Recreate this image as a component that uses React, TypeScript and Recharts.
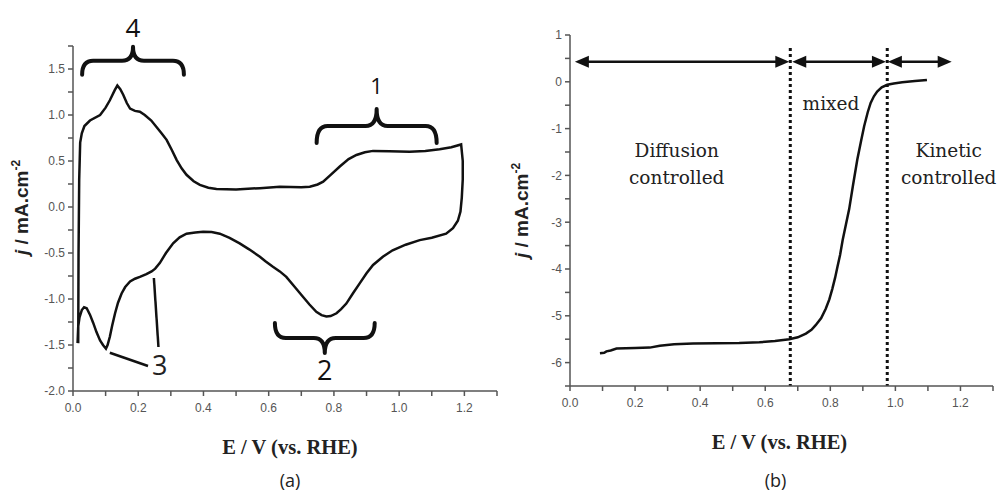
import { LineChart, Line, XAxis, YAxis, ReferenceLine, ReferenceDot } from "recharts";

// ─── (a) cyclic voltammogram ───

const cvAnodicE = [0.016, 0.017, 0.019, 0.022, 0.027, 0.035, 0.052, 0.083, 0.1, 0.113, 0.128, 0.136, 0.145, 0.154, 0.165, 0.175, 0.19, 0.205, 0.22, 0.24, 0.256, 0.272, 0.287, 0.303, 0.318, 0.333, 0.348, 0.37, 0.389, 0.415, 0.44, 0.5, 0.573, 0.634, 0.7, 0.726, 0.75, 0.767, 0.79, 0.818, 0.845, 0.869, 0.895, 0.92, 0.97, 1.032, 1.08, 1.124, 1.16, 1.19];
const cvAnodicJ = [-1.48, -0.5, 0.3, 0.7, 0.8, 0.88, 0.94, 1.0, 1.08, 1.16, 1.27, 1.32, 1.28, 1.22, 1.13, 1.07, 1.045, 1.035, 1.0, 0.94, 0.87, 0.8, 0.73, 0.62, 0.51, 0.42, 0.35, 0.28, 0.24, 0.21, 0.196, 0.19, 0.205, 0.22, 0.215, 0.22, 0.245, 0.275, 0.35, 0.44, 0.52, 0.565, 0.595, 0.61, 0.605, 0.6, 0.61, 0.627, 0.65, 0.68];
const cvCathodicE = [1.195, 1.195, 1.192, 1.188, 1.18, 1.165, 1.144, 1.1, 1.063, 1.02, 0.98, 0.95, 0.92, 0.9, 0.879, 0.858, 0.838, 0.822, 0.808, 0.79, 0.777, 0.762, 0.746, 0.725, 0.705, 0.68, 0.654, 0.634, 0.613, 0.59, 0.573, 0.54, 0.511, 0.48, 0.45, 0.425, 0.399, 0.375, 0.348, 0.327, 0.307, 0.285, 0.266, 0.252, 0.241, 0.225, 0.205, 0.19, 0.175, 0.16, 0.149, 0.138, 0.129, 0.12, 0.113, 0.106, 0.101, 0.092, 0.083, 0.072, 0.062, 0.052, 0.042, 0.034, 0.027, 0.02, 0.016, 0.014];
const cvCathodicJ = [0.5, 0.3, 0.1, -0.05, -0.15, -0.23, -0.29, -0.335, -0.36, -0.41, -0.47, -0.54, -0.63, -0.72, -0.83, -0.94, -1.05, -1.11, -1.155, -1.185, -1.19, -1.175, -1.14, -1.06, -0.975, -0.87, -0.76, -0.7, -0.65, -0.59, -0.54, -0.46, -0.395, -0.335, -0.29, -0.272, -0.27, -0.278, -0.29, -0.33, -0.395, -0.5, -0.61, -0.67, -0.7, -0.73, -0.76, -0.78, -0.81, -0.87, -0.94, -1.04, -1.155, -1.29, -1.41, -1.5, -1.54, -1.5, -1.45, -1.36, -1.26, -1.17, -1.1, -1.09, -1.12, -1.2, -1.3, -1.48];

// ─── (b) linear sweep (ORR) ───

const lsvE = [0.092, 0.105, 0.112, 0.125, 0.143, 0.2, 0.245, 0.276, 0.32, 0.378, 0.45, 0.52, 0.582, 0.63, 0.674, 0.7, 0.725, 0.742, 0.755, 0.772, 0.786, 0.797, 0.806, 0.815, 0.822, 0.83, 0.838, 0.848, 0.858, 0.87, 0.883, 0.895, 0.904, 0.915, 0.924, 0.934, 0.944, 0.958, 0.975, 0.995, 1.021, 1.06, 1.097];
const lsvJ = [-5.8, -5.79, -5.76, -5.74, -5.7, -5.69, -5.68, -5.64, -5.61, -5.59, -5.585, -5.58, -5.565, -5.54, -5.5, -5.46, -5.38, -5.3, -5.2, -5.05, -4.85, -4.65, -4.43, -4.18, -3.95, -3.7, -3.38, -3.05, -2.72, -2.2, -1.66, -1.25, -0.95, -0.65, -0.45, -0.31, -0.21, -0.12, -0.064, -0.035, -0.01, 0.015, 0.04];

// region limits (V) and the arrow row (mA.cm-2)
const regionBounds = [0.677, 0.975];
const regionArrows = [
  [0.015, 0.674],
  [0.683, 0.971],
  [0.977, 1.173],
];
const arrowLevel = 0.43;

// ─── ticks ───

const potentialTicks = [0, 0.1, 0.2, 0.3, 0.4, 0.5, 0.6, 0.7, 0.8, 0.9, 1.0, 1.1, 1.2, 1.3];
const cvCurrentTicks = [-2, -1.75, -1.5, -1.25, -1, -0.75, -0.5, -0.25, 0, 0.25, 0.5, 0.75, 1, 1.25, 1.5, 1.75];
const lsvCurrentTicks = [-6.5, -6, -5.5, -5, -4.5, -4, -3.5, -3, -2.5, -2, -1.5, -1, -0.5, 0, 0.5, 1];

const cvData = [...cvAnodicE, ...cvCathodicE].map((e, i) => ({
  e,
  j: [...cvAnodicJ, ...cvCathodicJ][i],
}));
const lsvData = lsvE.map((e, i) => ({ e, j: lsvJ[i] }));

const ink = "#111";
const axisInk = "#555";
const axisLineStyle = { stroke: axisInk, strokeWidth: 1.5 };

// ─── tick renderers ───

function makeTick(isMajor: (v: number) => boolean, fmt: (v: number) => string, vertical: boolean) {
  return (props: any) => {
    const { x, y, payload } = props;
    if (!isMajor(payload.value)) return <g />;
    return (
      <text
        x={x}
        y={y}
        dy={vertical ? "0.71em" : "0.36em"}
        textAnchor={vertical ? "middle" : "end"}
        fill={axisInk}
        fontSize={12}
        fontFamily="Liberation Sans, Arial, sans-serif"
      >
        {fmt(payload.value)}
      </text>
    );
  };
}

const potentialTick = makeTick(
  (v) => Math.round(v * 10) % 2 === 0,
  (v) => v.toFixed(1),
  true
);
const cvCurrentTick = makeTick(
  (v) => Math.abs(v * 2 - Math.round(v * 2)) < 1e-6,
  (v) => v.toFixed(1),
  false
);
const lsvCurrentTick = makeTick(
  (v) => Math.abs(v - Math.round(v)) < 1e-6,
  (v) => String(v),
  false
);

// ─── titles ───

function currentTitle(dx: number, dy: number) {
  return (props: any) => {
    const { x, y, height } = props.viewBox;
    const cx = x + dx;
    const cy = y + height / 2 + dy;
    return (
      <text
        x={cx}
        y={cy}
        transform={`rotate(-90, ${cx}, ${cy})`}
        textAnchor="middle"
        fontSize={19}
        fontWeight="bold"
        fontFamily="Liberation Sans, Arial, sans-serif"
        fill="#222"
      >
        <tspan fontStyle="italic">j</tspan> / mA.cm
        <tspan dy={-8} fontSize={12}>-2</tspan>
      </text>
    );
  };
}

function potentialTitle(tag: string, dx: number, tagDx: number) {
  return (props: any) => {
    const { x, y, width } = props.viewBox;
    const cx = x + width / 2;
    return (
      <g>
        <text
          x={cx + dx}
          y={y + 56}
          textAnchor="middle"
          dominantBaseline="central"
          fontSize={20.5}
          fontWeight="bold"
          fontFamily="Liberation Serif, Times New Roman, serif"
          fill="#222"
        >
          E / V (vs. RHE)
        </text>
        <text
          x={cx + tagDx}
          y={y + (tag === "(a)" ? 89 : 94)}
          textAnchor="middle"
          dominantBaseline="central"
          fontSize={18}
          fontFamily="Open Sans, sans-serif"
          fill="#222"
        >
          {tag}
        </text>
      </g>
    );
  };
}

// ─── annotation shapes ───

function brace(label: string, depth: number, up: boolean, fontSize: number, gap: number) {
  return (props: any) => {
    const { x1, x2, y1 } = props;
    const cx = (x1 + x2) / 2;
    const s = up ? 1 : -1;
    const r = 11;
    const yEnd = y1 + s * depth;
    const yTip = y1 - s * depth;
    const d = `M${x1},${yEnd} Q${x1},${y1} ${x1 + r},${y1} L${cx - r},${y1} Q${cx},${y1} ${cx},${yTip} Q${cx},${y1} ${cx + r},${y1} L${x2 - r},${y1} Q${x2},${y1} ${x2},${yEnd}`;
    return (
      <g>
        <path d={d} fill="none" stroke={ink} strokeWidth={4} strokeLinecap="round" strokeLinejoin="round" />
        <text
          x={cx}
          y={yTip - s * gap}
          textAnchor="middle"
          dominantBaseline="central"
          fontSize={fontSize}
          fontFamily="Open Sans, sans-serif"
          fill={ink}
        >
          {label}
        </text>
      </g>
    );
  };
}

function doubleArrow(props: any) {
  const { x1, x2, y1 } = props;
  const h = 14;
  const w = 6;
  return (
    <g>
      <line x1={x1 + h - 2} y1={y1} x2={x2 - h + 2} y2={y1} stroke={ink} strokeWidth={2.5} />
      <polygon points={`${x1},${y1} ${x1 + h},${y1 - w} ${x1 + h},${y1 + w}`} fill={ink} />
      <polygon points={`${x2},${y1} ${x2 - h},${y1 - w} ${x2 - h},${y1 + w}`} fill={ink} />
    </g>
  );
}

function caption(lines: string[], fontSize: number, family: string, lineGap: number) {
  return (props: any) => {
    const { cx, cy } = props;
    const top = cy - ((lines.length - 1) * lineGap) / 2;
    return (
      <text textAnchor="middle" fontSize={fontSize} fontFamily={family} fill="#222">
        {lines.map((t, i) => (
          <tspan key={t} x={cx} y={top + i * lineGap} dominantBaseline="central">
            {t}
          </tspan>
        ))}
      </text>
    );
  };
}

const serifNotes = "DejaVu Serif, serif";

export default function App() {
  return (
    <div style={{ position: "absolute", left: 0, top: 0, width: 1002, height: 502, background: "#fff" }}>
      {/* (a) */}
      <div style={{ position: "absolute", left: 0, top: 0 }}>
        <LineChart width={500} height={502} data={cvData} margin={{ top: 46, right: 3, bottom: 81, left: 13 }}>
          <XAxis
            type="number"
            dataKey="e"
            domain={[0, 1.3]}
            ticks={potentialTicks}
            interval={0}
            tick={potentialTick}
            tickSize={5}
            tickMargin={7}
            height={30}
            axisLine={axisLineStyle}
            tickLine={axisLineStyle}
            label={{ content: potentialTitle("(a)", 5, 5) }}
          />
          <YAxis
            type="number"
            domain={[-2, 1.75]}
            ticks={cvCurrentTicks}
            interval={0}
            tick={cvCurrentTick}
            tickSize={5}
            tickMargin={3}
            width={60}
            axisLine={axisLineStyle}
            tickLine={axisLineStyle}
            label={{ content: currentTitle(15, -11) }}
          />
          <Line type="linear" dataKey="j" stroke={ink} strokeWidth={2.5} dot={false} isAnimationActive={false} />
          <ReferenceLine segment={[{ x: 0.028, y: 1.59 }, { x: 0.34, y: 1.59 }]} shape={brace("4", 14, true, 26, 20)} />
          <ReferenceLine segment={[{ x: 0.747, y: 0.88 }, { x: 1.115, y: 0.88 }]} shape={brace("1", 17, true, 22, 24)} />
          <ReferenceLine segment={[{ x: 0.619, y: -1.424 }, { x: 0.925, y: -1.424 }]} shape={brace("2", 15, false, 27, 16)} />
          <ReferenceLine segment={[{ x: 0.113, y: -1.584 }, { x: 0.23, y: -1.728 }]} stroke={ink} strokeWidth={2.5} />
          <ReferenceLine segment={[{ x: 0.248, y: -0.772 }, { x: 0.262, y: -1.522 }]} stroke={ink} strokeWidth={2.5} />
          <ReferenceDot x={0.266} y={-1.71} r={1} shape={caption(["3"], 27, "Open Sans, sans-serif", 0)} />
        </LineChart>
      </div>

      {/* (b) */}
      <div style={{ position: "absolute", left: 500, top: 0 }}>
        <LineChart width={502} height={502} data={lsvData} margin={{ top: 35, right: 9, bottom: 86, left: 10 }}>
          <XAxis
            type="number"
            dataKey="e"
            domain={[0, 1.3]}
            ticks={potentialTicks}
            interval={0}
            tick={potentialTick}
            tickSize={5}
            tickMargin={7}
            height={30}
            axisLine={axisLineStyle}
            tickLine={axisLineStyle}
            label={{ content: potentialTitle("(b)", -2, -6) }}
          />
          <YAxis
            type="number"
            domain={[-6.5, 1]}
            ticks={lsvCurrentTicks}
            interval={0}
            tick={lsvCurrentTick}
            tickSize={5}
            tickMargin={3}
            width={60}
            axisLine={axisLineStyle}
            tickLine={axisLineStyle}
            label={{ content: currentTitle(18, 0) }}
          />
          {regionBounds.map((e) => (
            <ReferenceLine
              key={e}
              segment={[{ x: e, y: 0.72 }, { x: e, y: -6.5 }]}
              stroke={ink}
              strokeWidth={3}
              strokeDasharray="3 3"
            />
          ))}
          {regionArrows.map(([a, b]) => (
            <ReferenceLine key={a} segment={[{ x: a, y: arrowLevel }, { x: b, y: arrowLevel }]} shape={doubleArrow} />
          ))}
          <Line type="linear" dataKey="j" stroke={ink} strokeWidth={2.5} dot={false} isAnimationActive={false} />
          <ReferenceDot x={0.328} y={-1.76} r={1} shape={caption(["Diffusion", "controlled"], 18.5, serifNotes, 27)} />
          <ReferenceDot x={0.802} y={-0.47} r={1} shape={caption(["mixed"], 18.5, serifNotes, 0)} />
          <ReferenceDot x={1.164} y={-1.76} r={1} shape={caption(["Kinetic", "controlled"], 18.5, serifNotes, 27)} />
        </LineChart>
      </div>
    </div>
  );
}
